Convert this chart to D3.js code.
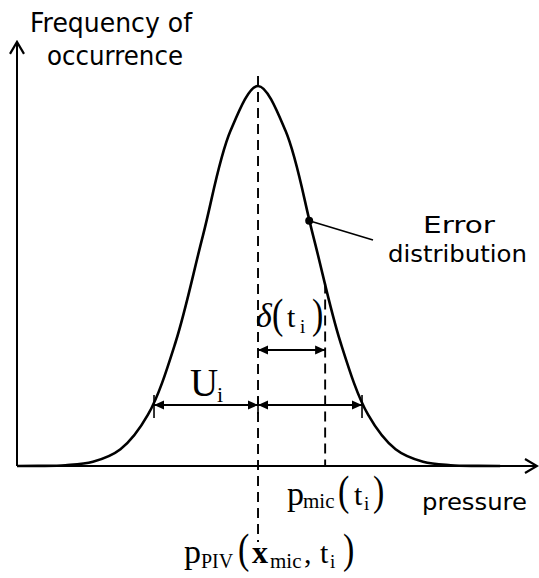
<!DOCTYPE html>
<html><head><meta charset="utf-8">
<script src="https://cdn.jsdelivr.net/npm/d3@7"></script>
<style>html,body{margin:0;padding:0;background:#fff;}svg{display:block;}</style>
</head><body>
<script>
// Data (pressure in units of sigma relative to p_PIV, normalised frequency)
const pressureZ = [-4.38,-4,-3.5,-3,-2.5,-2,-1.5,-1,-0.5,0,0.5,1,1.5,2,2.5,3,3.5,4,4.4];
const frequency = [0,0.0003,0.002,0.011,0.044,0.135,0.325,0.607,0.882,1,0.882,0.607,0.325,0.135,0.044,0.011,0.002,0.0003,0];
const pMic = 1.22;      // p_mic(t_i) relative to p_PIV
const uHalf = 1.89;     // U_i
const dotZ = 0.93;      // Error distribution marker

const W = 539, H = 578;
const svg = d3.select("body").append("svg").attr("width", W).attr("height", H);
const x = d3.scaleLinear().domain([-4.38, 5.07]).range([17, 537]);
const y = d3.scaleLinear().domain([0, 1]).range([466, 86]);
const pts = pressureZ.map((p, i) => [p, frequency[i]]);
const fAt = z => {
  for (let i = 0; i < pts.length - 1; i++) if (z >= pts[i][0] && z <= pts[i+1][0]) {
    const t = (z - pts[i][0]) / (pts[i+1][0] - pts[i][0]);
    return pts[i][1] + t * (pts[i+1][1] - pts[i][1]);
  } return 0;
};

// arrow markers
const defs = svg.append("defs");
defs.append("marker").attr("id","open").attr("viewBox","-14 -8 16 16").attr("refX",0).attr("refY",0)
  .attr("markerWidth",16).attr("markerHeight",16).attr("markerUnits","userSpaceOnUse").attr("orient","auto")
  .append("path").attr("d","M-12,-7 L0,0 L-12,7").attr("fill","none").attr("stroke","#000").attr("stroke-width",2.2);
defs.append("marker").attr("id","tri").attr("viewBox","-11 -5 12 10").attr("refX",0).attr("refY",0)
  .attr("markerWidth",12).attr("markerHeight",10).attr("markerUnits","userSpaceOnUse").attr("orient","auto-start-reverse")
  .append("path").attr("d","M-10,-4.5 L0,0 L-10,4.5 Z").attr("fill","#000");

// axes
svg.append("line").attr("x1", x(-4.38)).attr("x2", x(-4.38)).attr("y1", y(0)).attr("y2", y(1.116))
  .attr("stroke","#000").attr("stroke-width",2).attr("marker-end","url(#open)");
svg.append("line").attr("x1", x(-4.38)).attr("x2", x(5.07)).attr("y1", y(0)).attr("y2", y(0))
  .attr("stroke","#000").attr("stroke-width",2).attr("marker-end","url(#open)");

// curve
const line = d3.line().x(d => x(d[0])).y(d => y(d[1])).curve(d3.curveCatmullRom.alpha(0.5));
svg.append("path").datum(pts).attr("d", line).attr("fill","none").attr("stroke","#000").attr("stroke-width",2.6);

// dashed lines
svg.append("line").attr("x1", x(0)).attr("x2", x(0)).attr("y1", y(1.026)).attr("y2", 542)
  .attr("stroke","#000").attr("stroke-width",1.9).attr("stroke-dasharray","10,6");
svg.append("line").attr("x1", x(pMic)).attr("x2", x(pMic)).attr("y1", y(0.48)).attr("y2", y(0))
  .attr("stroke","#000").attr("stroke-width",1.9).attr("stroke-dasharray","10,6");

// U_i dimension
const uy = 405;
[[-uHalf,0],[0,uHalf]].forEach(([a,b]) => {
  svg.append("line").attr("x1", x(a)).attr("x2", x(b)).attr("y1", uy).attr("y2", uy)
    .attr("stroke","#000").attr("stroke-width",1.8)
    .attr("marker-start","url(#tri)").attr("marker-end","url(#tri)");
});
[-uHalf, uHalf].forEach(v => svg.append("line").attr("x1", x(v)).attr("x2", x(v)).attr("y1", 395).attr("y2", 418)
  .attr("stroke","#000").attr("stroke-width",1.6));
svg.append("line").attr("x1", x(0)).attr("x2", x(0)).attr("y1", 397).attr("y2", 414).attr("stroke","#000").attr("stroke-width",1.6);

// delta dimension
svg.append("line").attr("x1", x(0)).attr("x2", x(pMic)).attr("y1", 350).attr("y2", 350)
  .attr("stroke","#000").attr("stroke-width",1.8)
  .attr("marker-start","url(#tri)").attr("marker-end","url(#tri)");

// error distribution marker
const dy = y(fAt(dotZ));
svg.append("line").attr("x1", x(dotZ)).attr("y1", dy).attr("x2", 373).attr("y2", 240).attr("stroke","#000").attr("stroke-width",1.6);
svg.append("circle").attr("cx", x(dotZ)).attr("cy", dy).attr("r", 4).attr("fill","#000");

// sans labels
const sans = "'DejaVu Sans', Verdana, sans-serif";
function sLabel(t, xx, yy, len, size){
  svg.append("text").attr("x", xx).attr("y", yy).attr("font-family", sans).attr("font-size", size)
    .attr("textLength", len).attr("lengthAdjust","spacingAndGlyphs").attr("fill","#000").text(t);
}
sLabel("Frequency of", 30, 32, 162, 27);
sLabel("occurrence", 47, 65, 136, 27);
sLabel("Error", 423, 233, 72, 23.5);
sLabel("distribution", 388, 262, 139, 23.5);
sLabel("pressure", 422, 510, 105, 23.5);

// serif math labels
const serif = "'Liberation Serif', 'Times New Roman', serif";
function part(g, t, xx, yy, size, opts={}) {
  const el = g.append("text").attr("x", xx).attr("y", yy).attr("font-family", serif).attr("font-size", size).attr("fill","#000").text(t);
  if (opts.italic) el.attr("font-style","italic");
  if (opts.bold) el.attr("font-weight","bold");
  if (opts.sy) el.attr("transform", `translate(${xx},${yy}) scale(1,${opts.sy}) translate(${-xx},${-yy})`);
  return el;
}
// U_i
const gU = svg.append("g");
part(gU, "U", 190, 396, 39);
part(gU, "i", 217, 402, 22);
// delta(t_i)
const gD = svg.append("g");
part(gD, "δ", 256, 327, 34, {italic:true});
part(gD, "(", 272, 328, 34, {sy:1.25});
part(gD, "t", 287, 327, 30);
part(gD, "i", 300, 333, 19);
part(gD, ")", 312, 328, 34, {sy:1.25});
// p_mic(t_i)
const gM = svg.append("g");
part(gM, "p", 287, 505, 34);
part(gM, "mic", 303, 508, 21);
part(gM, "(", 338, 505, 34, {sy:1.25});
part(gM, "t", 354, 505, 30);
part(gM, "i", 364, 510, 19);
part(gM, ")", 373, 505, 34, {sy:1.25});
// p_PIV(x_mic, t_i)
const gP = svg.append("g");
part(gP, "p", 184, 563, 34);
part(gP, "PIV", 201, 568, 20);
part(gP, "(", 238, 563, 34, {sy:1.25});
part(gP, "x", 252, 563, 32, {bold:true});
part(gP, "mic", 270, 568, 21);
part(gP, ",", 304, 563, 30);
part(gP, "t", 320, 563, 30);
part(gP, "i", 330, 568, 19);
part(gP, ")", 343, 563, 34, {sy:1.25});
</script>
</body></html>
